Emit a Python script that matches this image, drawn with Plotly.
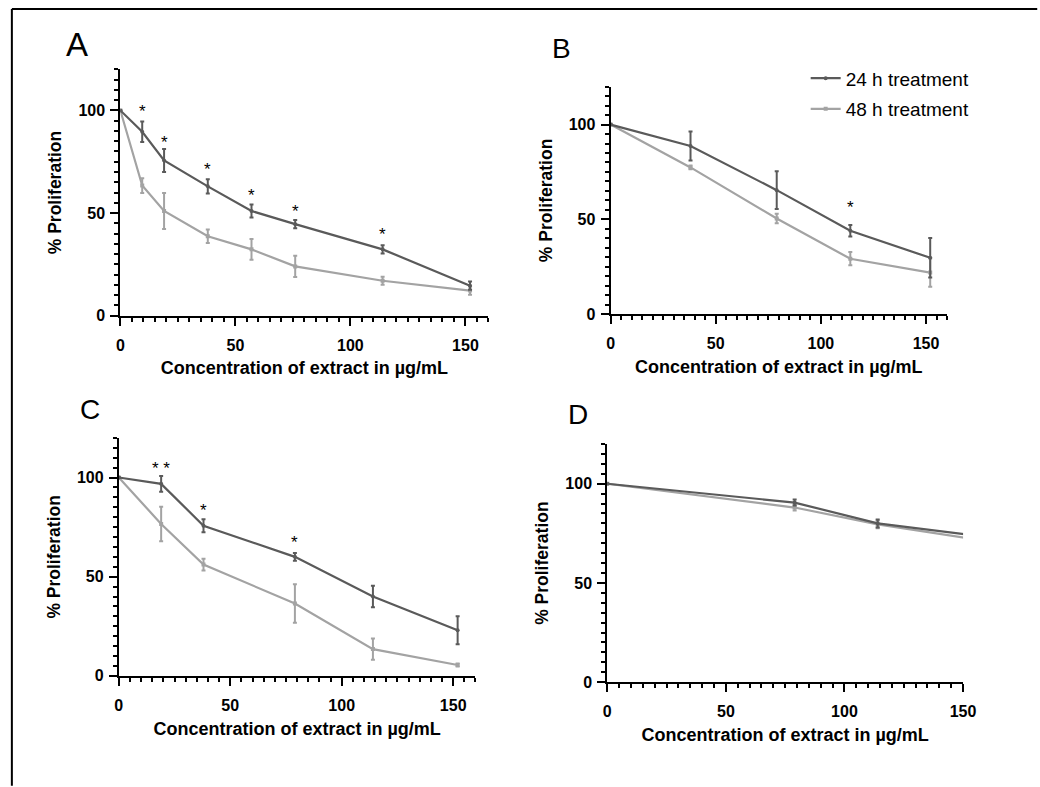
import plotly.graph_objects as go

W, H = 1040, 787
FONT = "Arial, Liberation Sans, sans-serif"
C24 = "#5a5a5a"
C48 = "#a3a3a3"

# ---------------- data ----------------
A_x = [0, 9.5, 19, 38, 57, 76, 114, 152]
A_24 = [100, 89.6, 75.6, 63.0, 51.0, 44.6, 32.3, 14.6]
A_24_err = [0, 5.0, 5.6, 3.5, 3.2, 2.0, 2.0, 2.0]
A_48 = [100, 63.4, 51.0, 38.7, 32.3, 24.0, 17.0, 12.2]
A_48_err = [0, 3.6, 8.8, 3.3, 5.0, 5.2, 2.0, 2.0]
A_star_x = [9.5, 19, 38, 57, 76, 114]
A_star_y = [101, 86, 72.7, 60, 52, 41]
A_star_t = ["*", "*", "*", "*", "*", "*"]

B_x = [0, 38, 79, 114, 152]
B_24 = [100, 88.7, 65.4, 44.0, 29.7]
B_24_err = [0, 7.6, 10.0, 3.0, 10.4]
B_48 = [100, 77.4, 50.4, 29.2, 21.9]
B_48_err = [0, 1.0, 2.5, 3.5, 7.5]
B_star_x = [114]
B_star_y = [58]
B_star_t = ["*"]

C_x = [0, 19, 38, 79, 114, 152]
C_24 = [100, 96.8, 75.7, 60.0, 40.0, 23.0]
C_24_err = [0, 4.0, 3.3, 2.0, 5.4, 7.0]
C_48 = [100, 76.6, 56.1, 36.5, 13.5, 5.5]
C_48_err = [0, 8.7, 3.0, 9.7, 5.4, 0.8]
C_star_x = [19, 38, 79]
C_star_y = [106.3, 85, 69]
C_star_t = ["* *", "*", "*"]

D_x = [0, 79, 114, 152]
D_24 = [100, 90.5, 80.0, 74.4]
D_24_err = [0, 1.5, 2.0, 1.0]
D_48 = [100, 88.0, 79.5, 72.6]
D_48_err = [0, 1.5, 2.0, 1.0]

x_title = "Concentration of extract in µg/mL"
y_title = "% Proliferation"

panels = [
    dict(name="A", x=A_x, y24=A_24, e24=A_24_err, y48=A_48, e48=A_48_err,
         sx=A_star_x, sy=A_star_y, st=A_star_t, xr=[0, 160],
         xd=[118.3, 492.5], yd=[319.3, 70.2], letter=(61, 45, 33)),
    dict(name="B", x=B_x, y24=B_24, e24=B_24_err, y48=B_48, e48=B_48_err,
         sx=B_star_x, sy=B_star_y, st=B_star_t, xr=[0, 160],
         xd=[616.7, 958.7], yd=[317.7, 87.7], letter=(555, 49, 28)),
    dict(name="C", x=C_x, y24=C_24, e24=C_24_err, y48=C_48, e48=C_48_err,
         sx=C_star_x, sy=C_star_y, st=C_star_t, xr=[0, 160],
         xd=[116.7, 479.3], yd=[683.7, 442.9], letter=(75, 414, 28)),
    dict(name="D", x=D_x, y24=D_24, e24=D_24_err, y48=D_48, e48=D_48_err,
         sx=[], sy=[], st=[], xr=[0, 150],
         xd=[613.3, 975.0], yd=[690.0, 449.2], letter=(571, 419, 28)),
]

fig = go.Figure()
annotations = []

for i, p in enumerate(panels):
    k = "" if i == 0 else str(i + 1)
    xa, ya = "x" + k, "y" + k
    show = p["name"] == "B"
    fig.add_trace(go.Scatter(
        x=p["x"], y=p["y48"], xaxis=xa, yaxis=ya, mode="lines+markers",
        name="48 h treatment", showlegend=show, legendgroup="g48", legendrank=2,
        line=dict(color=C48, width=2.2),
        marker=dict(symbol="square", size=4, color=C48),
        error_y=dict(type="data", array=p["e48"], color=C48, thickness=2, width=2)))
    fig.add_trace(go.Scatter(
        x=p["x"], y=p["y24"], xaxis=xa, yaxis=ya, mode="lines+markers",
        name="24 h treatment", showlegend=show, legendgroup="g24", legendrank=1,
        line=dict(color=C24, width=2.2),
        marker=dict(symbol="circle", size=4, color=C24),
        error_y=dict(type="data", array=p["e24"], color=C24, thickness=2, width=2)))

    for sx, sy, st in zip(p["sx"], p["sy"], p["st"]):
        annotations.append(dict(x=sx, y=sy, xref=xa, yref=ya, text=st, showarrow=False,
                                font=dict(family=FONT, size=17, color="black"),
                                xanchor="center", yanchor="middle", yshift=-3))

    lx, ly, ls = p["letter"]
    annotations.append(dict(x=lx / W, y=1 - ly / H, xref="paper", yref="paper", text=p["name"],
                            showarrow=False, xanchor="left", yanchor="middle",
                            font=dict(family=FONT, size=ls, color="black")))

    axis_common = dict(showline=True, linecolor="black", linewidth=2, ticks="outside",
                       ticklen=8, tickwidth=2, tickcolor="black", showgrid=False,
                       zeroline=False, tick0=0, dtick=50,
                       tickfont=dict(family=FONT, size=16, color="black", weight="bold"),
                       minor=dict(ticks="outside", ticklen=4, tickwidth=2, tickcolor="black",
                                  dtick=5, tick0=0, showgrid=False))
    fig.layout["xaxis" + k] = dict(
        axis_common, domain=[p["xd"][0] / W, p["xd"][1] / W], range=p["xr"], anchor=ya,
        ticklabelstandoff=6,
        title=dict(text=x_title, standoff=9,
                   font=dict(family=FONT, size=18, color="black", weight="bold")))
    fig.layout["yaxis" + k] = dict(
        axis_common, domain=[1 - p["yd"][0] / H, 1 - p["yd"][1] / H], range=[0, 120], anchor=xa,
        ticklabelstandoff=2,
        title=dict(text=y_title, standoff=12,
                   font=dict(family=FONT, size=17.5, color="black", weight="bold")))

# outer frame (top and left edges)
shapes = [
    dict(type="line", xref="paper", yref="paper", x0=8 / W, x1=1.01, y0=1 - 9 / H, y1=1 - 9 / H,
         line=dict(color="black", width=2)),
    dict(type="line", xref="paper", yref="paper", x0=8 / W, x1=8 / W, y0=1 - 9 / H, y1=-0.01,
         line=dict(color="black", width=2)),
]

fig.update_layout(
    width=W, height=H, margin=dict(l=0, r=0, t=0, b=0),
    paper_bgcolor="white", plot_bgcolor="white",
    font=dict(family=FONT, color="black"),
    annotations=annotations, shapes=shapes,
    legend=dict(x=815 / W, y=1 - 60 / H, xanchor="left", yanchor="top",
                font=dict(family=FONT, size=19, color="black"),
                bgcolor="rgba(0,0,0,0)", traceorder="grouped", tracegroupgap=3),
)

fig.write_html("out.html")
